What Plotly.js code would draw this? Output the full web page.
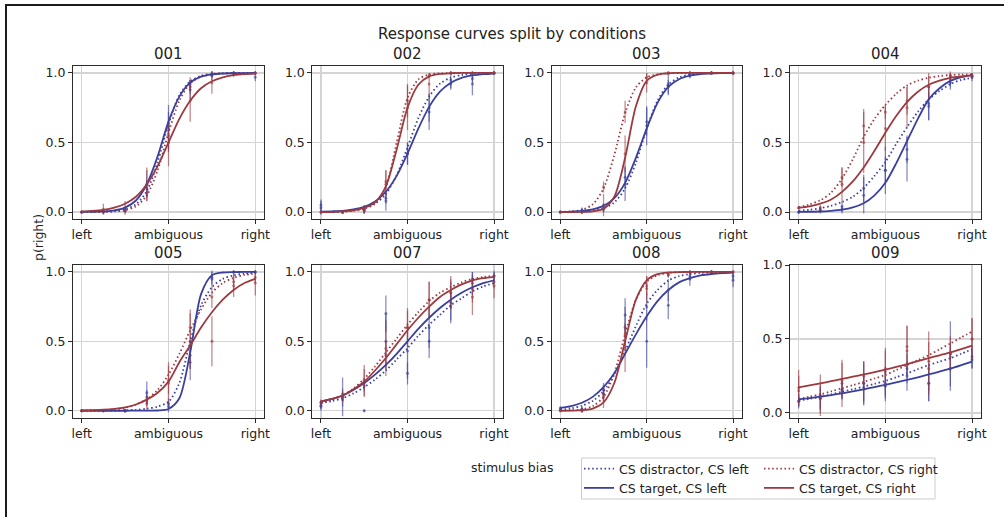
<!DOCTYPE html>
<html><head><meta charset="utf-8">
<script src="https://cdn.plot.ly/plotly-3.0.1.min.js"></script>
<style>html,body{margin:0;padding:0;background:#fff;overflow:hidden}#chart{width:1004px;height:517px}</style>
</head><body><div id="chart"></div>
<script>
// ---------------- data ----------------
const subjects = ['001','002','003','004','005','007','008','009'];
const stimX = [-1,-0.75,-0.5,-0.25,0,0.25,0.5,0.75,1];
const curveX = [-1,-0.875,-0.75,-0.625,-0.5,-0.375,-0.25,-0.125,0,0.125,0.25,0.375,0.5,0.625,0.75,0.875,1];
const xTickVals = [-1,0,1];
const xTickText = ['left','ambiguous','right'];
const yTickVals = [0,0.5,1];
const yTickText = ['0.0','0.5','1.0'];
const conditionNames = ['CS distractor, CS left','CS distractor, CS right','CS target, CS left','CS target, CS right'];

// fitted curves, sampled at curveX
const curveDistLeft = [
 [0,0,0.002,0.006,0.019,0.056,0.15,0.36,0.63,0.84,0.94,0.98,0.993,0.997,0.999,1,1],
 [0.001,0.002,0.005,0.011,0.026,0.059,0.13,0.265,0.465,0.675,0.83,0.923,0.966,0.985,0.994,0.997,0.999],
 [0.001,0.001,0.004,0.01,0.027,0.069,0.17,0.354,0.6,0.8,0.917,0.968,0.988,0.996,0.998,0.999,1],
 [0.01,0.016,0.028,0.045,0.072,0.11,0.174,0.26,0.36,0.49,0.61,0.72,0.81,0.87,0.92,0.95,0.965],
 [0,0,0,0.001,0.003,0.007,0.015,0.03,0.065,0.2,0.5,0.76,0.89,0.95,0.975,0.988,0.994],
 [0.055,0.07,0.09,0.125,0.17,0.225,0.29,0.37,0.45,0.54,0.62,0.69,0.76,0.81,0.86,0.895,0.92],
 [0.008,0.017,0.036,0.071,0.14,0.26,0.43,0.61,0.77,0.87,0.937,0.97,0.985,0.993,0.997,0.998,0.999],
 [0.083,0.095,0.108,0.125,0.144,0.16,0.178,0.197,0.216,0.241,0.268,0.296,0.324,0.347,0.37,0.4,0.43]
];
const curveTargetLeft = [
 [0.001,0.002,0.005,0.012,0.032,0.083,0.2,0.4,0.65,0.83,0.93,0.973,0.99,0.996,0.998,0.999,1],
 [0.002,0.005,0.009,0.019,0.038,0.076,0.146,0.26,0.42,0.6,0.756,0.865,0.93,0.965,0.982,0.991,0.996],
 [0.001,0.003,0.008,0.02,0.044,0.1,0.21,0.39,0.6,0.785,0.9,0.955,0.98,0.992,0.997,0.999,1],
 [0.001,0.002,0.004,0.009,0.017,0.033,0.063,0.12,0.21,0.35,0.51,0.67,0.81,0.89,0.943,0.97,0.985],
 [0,0,0,0,0,0.001,0.001,0.002,0.013,0.09,0.42,0.84,0.976,0.996,0.999,1,1],
 [0.065,0.085,0.11,0.15,0.2,0.26,0.33,0.41,0.5,0.59,0.67,0.74,0.8,0.85,0.89,0.92,0.94],
 [0.02,0.033,0.058,0.1,0.17,0.27,0.41,0.55,0.68,0.79,0.87,0.925,0.955,0.975,0.985,0.991,0.995],
 [0.092,0.1,0.11,0.121,0.133,0.146,0.16,0.175,0.19,0.206,0.223,0.241,0.26,0.28,0.3,0.323,0.347]
];
const curveDistRight = [
 [0,0,0.002,0.004,0.014,0.04,0.12,0.3,0.57,0.8,0.925,0.975,0.99,0.997,0.999,1,1],
 [0,0,0.001,0.01,0.025,0.06,0.18,0.5,0.82,0.953,0.989,0.997,0.999,1,1,1,1],
 [0.001,0.005,0.016,0.055,0.17,0.41,0.71,0.896,0.968,0.99,0.997,0.999,1,1,1,1,1],
 [0.035,0.055,0.085,0.14,0.24,0.38,0.54,0.67,0.77,0.85,0.91,0.945,0.965,0.978,0.985,0.99,0.99],
 [0.001,0.002,0.005,0.01,0.022,0.045,0.083,0.15,0.26,0.41,0.58,0.73,0.85,0.92,0.957,0.978,0.989],
 [0.06,0.08,0.11,0.16,0.23,0.32,0.42,0.52,0.62,0.71,0.79,0.85,0.89,0.925,0.95,0.963,0.972],
 [0.001,0.003,0.01,0.033,0.1,0.27,0.55,0.8,0.93,0.976,0.993,0.998,1,1,1,1,1],
 [0.095,0.11,0.126,0.146,0.167,0.188,0.21,0.233,0.257,0.29,0.324,0.357,0.39,0.43,0.47,0.51,0.55]
];
const curveTargetRight = [
 [0.004,0.008,0.016,0.032,0.06,0.11,0.2,0.33,0.5,0.67,0.8,0.89,0.94,0.968,0.984,0.992,0.996],
 [0,0,0.005,0.012,0.03,0.07,0.185,0.45,0.75,0.915,0.975,0.993,0.998,1,1,1,1],
 [0,0,0.001,0.005,0.024,0.11,0.39,0.76,0.943,0.988,0.998,1,1,1,1,1,1],
 [0.03,0.04,0.06,0.09,0.145,0.22,0.32,0.44,0.57,0.69,0.79,0.865,0.915,0.945,0.965,0.975,0.982],
 [0.003,0.005,0.008,0.014,0.025,0.045,0.08,0.13,0.21,0.35,0.47,0.6,0.71,0.8,0.87,0.92,0.95],
 [0.065,0.085,0.11,0.155,0.21,0.29,0.38,0.48,0.58,0.67,0.75,0.82,0.87,0.91,0.94,0.955,0.965],
 [0,0.001,0.004,0.016,0.06,0.2,0.5,0.8,0.94,0.984,0.996,0.999,1,1,1,1,1],
 [0.173,0.186,0.2,0.215,0.23,0.245,0.26,0.276,0.293,0.311,0.33,0.35,0.37,0.39,0.41,0.432,0.455]
];

// observed means and errors, at stimX
const meanDistLeft = [
 [0,0,0.01,0.17,0.62,0.9,0.99,1,1],
 [0.03,0,0.01,0.1,0.42,0.75,0.92,0.96,1],
 [0,0.01,0.02,0.25,0.65,0.9,0.98,1,1],
 [0,0.01,0.04,0.17,0.3,0.45,0.76,0.93,0.97],
 [0,0,0,0.1,0.05,0.4,0.95,1,1],
 [0.03,0.08,0.18,0.5,0.43,0.6,0.75,0.95,0.97],
 [0.01,0.01,0.12,0.6,0.75,0.87,0.97,1,0.97],
 [0.08,0.1,0.15,0.17,0.2,0.25,0.2,0.4,0.38]
];
const errDistLeft = [
 [0.005,0.005,0.01,0.06,0.1,0.05,0.02,0.01,0.01],
 [0.05,0.01,0.02,0.04,0.08,0.1,0.04,0.03,0.01],
 [0.005,0.02,0.02,0.08,0.1,0.05,0.02,0.01,0.01],
 [0.01,0.02,0.04,0.1,0.1,0.1,0.1,0.05,0.03],
 [0.005,0.005,0.01,0.05,0.04,0.1,0.05,0.01,0.01],
 [0.03,0.05,0.04,0.2,0.2,0.15,0.1,0.05,0.03],
 [0.01,0.02,0.05,0.15,0.1,0.08,0.03,0.01,0.03],
 [0.05,0.07,0.06,0.09,0.1,0.1,0.12,0.22,0.08]
];
const meanTargetLeft = [
 [0,0,0.01,0.2,0.6,0.88,0.98,1,0.97],
 [0.05,0,0.02,0.08,0.42,0.72,0.95,0.92,1],
 [0,0.01,0.03,0.2,0.62,0.92,0.99,1,1],
 [0,0.01,0.02,0.12,0.3,0.38,0.78,0.95,0.98],
 [0,0,0,0.13,0.03,0.35,0.96,1,1],
 [0.04,0.1,0,0.7,0.27,0.5,0.78,0.92,0.97],
 [0.02,0.01,0.15,0.69,0.5,0.76,0.95,1,0.94],
 [0.08,0.1,0.16,0.2,0.18,0.3,0.2,0.3,0.36]
];
const errTargetLeft = [
 [0.005,0.005,0.01,0.1,0.17,0.07,0.03,0.01,0.03],
 [0.04,0.01,0.03,0.07,0.08,0.13,0.06,0.08,0.01],
 [0.005,0.02,0.03,0.12,0.14,0.08,0.02,0.01,0.01],
 [0.01,0.01,0.03,0.13,0.17,0.16,0.12,0.05,0.02],
 [0.005,0.005,0.01,0.08,0.04,0.13,0.05,0.01,0.01],
 [0.03,0.14,0.01,0.13,0.08,0.12,0.15,0.08,0.04],
 [0.01,0.02,0.05,0.12,0.19,0.1,0.05,0.01,0.05],
 [0.04,0.08,0.06,0.15,0.1,0.1,0.12,0.15,0.06]
];
const meanDistRight = [
 [0,0,0.01,0.13,0.55,0.92,0.99,1,1],
 [0,0,0.01,0.22,0.8,0.98,1,1,1],
 [0,0,0.18,0.72,0.97,1,1,1,1],
 [0.03,0.03,0.25,0.62,0.72,0.8,0.9,0.98,0.98],
 [0,0,0,0.07,0.22,0.6,0.82,0.93,0.96],
 [0.06,0.12,0.22,0.45,0.6,0.8,0.85,0.88,0.93],
 [0,0,0.12,0.55,0.9,0.98,1,1,1],
 [0.17,0.12,0.2,0.2,0.28,0.42,0.35,0.4,0.5]
];
const errDistRight = [
 [0.005,0.01,0.02,0.05,0.1,0.05,0.02,0.01,0.01],
 [0.01,0.01,0.02,0.08,0.12,0.02,0.01,0.01,0.01],
 [0.005,0.01,0.04,0.08,0.03,0.01,0.01,0.01,0.01],
 [0.01,0.02,0.07,0.12,0.05,0.1,0.08,0.02,0.02],
 [0.005,0.005,0.01,0.04,0.1,0.13,0.08,0.06,0.04],
 [0.02,0.04,0.11,0.2,0.14,0.13,0.1,0.1,0.05],
 [0.005,0.01,0.06,0.08,0.07,0.02,0.01,0.01,0.01],
 [0.12,0.14,0.16,0.14,0.16,0.17,0.2,0.12,0.14]
];
const meanTargetRight = [
 [0,0.02,0.03,0.2,0.5,0.8,0.93,0.99,1],
 [0,0,0.02,0.2,0.75,0.92,1,1,1],
 [0,0,0.05,0.42,0.93,1,1,1,1],
 [0.03,0.02,0.2,0.5,0.6,0.75,0.9,0.98,0.98],
 [0,0,0,0.05,0.2,0.5,0.5,0.9,0.92],
 [0.06,0.1,0.2,0.4,0.6,0.8,0.85,0.82,0.9],
 [0,0,0.1,0.45,0.88,0.98,1,1,1],
 [0.15,0.1,0.22,0.25,0.3,0.45,0.3,0.38,0.5]
];
const errTargetRight = [
 [0.005,0.04,0.05,0.12,0.17,0.15,0.08,0.02,0.01],
 [0.01,0.01,0.03,0.1,0.16,0.08,0.01,0.01,0.01],
 [0.005,0.01,0.08,0.13,0.07,0.01,0.01,0.01,0.01],
 [0.01,0.02,0.12,0.22,0.16,0.15,0.1,0.03,0.02],
 [0.005,0.005,0.01,0.05,0.15,0.2,0.18,0.08,0.09],
 [0.02,0.04,0.1,0.1,0.12,0.13,0.12,0.13,0.09],
 [0.005,0.01,0.08,0.17,0.09,0.02,0.01,0.01,0.01],
 [0.1,0.1,0.12,0.1,0.12,0.14,0.18,0.1,0.14]
];

// ---------------- style / layout ----------------
const W = 1004, H = 517;
const BLUE = '#3b409c', RED = '#9c3a40';
const BLUE_A = 'rgba(59,64,156,0.6)', RED_A = 'rgba(156,58,64,0.6)';
const FONT = 'DejaVu Sans, Liberation Sans, sans-serif';
const colPx = [[73,264],[312.3,502.7],[551.7,741.7],[790,980.7]];
const rowPx = [[66,219],[265,417.7]];
const yRanges = [[-0.05,1.05],[-0.05,1.05],[-0.05,1.05],[-0.05,1.05],[-0.05,1.05],[-0.05,1.05],[-0.05,1.05],[-0.032,1.0]];
const titleRowY = [54, 253];

const conds = [
  {name: conditionNames[0], curve: curveDistLeft, mean: meanDistLeft, err: errDistLeft, color: BLUE, ca: BLUE_A, dash: '1.5px,2.6px', leg: 'legend', rank: 1},
  {name: conditionNames[1], curve: curveDistRight, mean: meanDistRight, err: errDistRight, color: RED, ca: RED_A, dash: '1.5px,2.6px', leg: 'legend2', rank: 1},
  {name: conditionNames[2], curve: curveTargetLeft, mean: meanTargetLeft, err: errTargetLeft, color: BLUE, ca: BLUE_A, dash: 'solid', leg: 'legend', rank: 2},
  {name: conditionNames[3], curve: curveTargetRight, mean: meanTargetRight, err: errTargetRight, color: RED, ca: RED_A, dash: 'solid', leg: 'legend2', rank: 2}
];

const legendCommon = {
  orientation: 'v', yanchor: 'top', xanchor: 'left', y: 1 - 454 / H,
  bgcolor: 'rgba(0,0,0,0)', borderwidth: 0, traceorder: 'normal',
  font: {family: FONT, size: 12.5, color: '#222'}, itemwidth: 30, tracegroupgap: 0
};

const traces = [];
const layout = {
  width: W, height: H,
  margin: {l: 0, r: 0, t: 0, b: 0, autoexpand: false},
  paper_bgcolor: '#fff', plot_bgcolor: '#fff',
  font: {family: FONT, size: 12.5, color: '#222'},
  showlegend: true,
  legend: Object.assign({}, legendCommon, {x: 579 / W}),
  legend2: Object.assign({}, legendCommon, {x: 759 / W}),
  annotations: [],
  shapes: []
};

subjects.forEach((s, i) => {
  const n = i + 1;
  const col = i % 4, row = Math.floor(i / 4);
  const xa = n === 1 ? 'x' : 'x' + n;
  const ya = n === 1 ? 'y' : 'y' + n;
  const common = {
    showgrid: true, gridcolor: '#d4d4d4', gridwidth: 1.2, zeroline: false,
    showline: true, linecolor: '#2b2b2b', linewidth: 1, mirror: true,
    ticks: 'outside', ticklen: 4, tickwidth: 1, tickcolor: '#2b2b2b',
    tickfont: {family: FONT, size: 12.5, color: '#222'}, fixedrange: true
  };
  layout[n === 1 ? 'xaxis' : 'xaxis' + n] = Object.assign({}, common, {
    domain: [colPx[col][0] / W, colPx[col][1] / W], range: [-1.1, 1.1],
    tickmode: 'array', tickvals: xTickVals, ticktext: xTickText, anchor: ya
  });
  layout[n === 1 ? 'yaxis' : 'yaxis' + n] = Object.assign({}, common, {
    domain: [1 - rowPx[row][1] / H, 1 - rowPx[row][0] / H], range: yRanges[i],
    tickmode: 'array', tickvals: yTickVals, ticktext: yTickText, anchor: xa
  });
  layout.annotations.push({
    text: s, xref: 'paper', yref: 'paper',
    x: (colPx[col][0] + colPx[col][1]) / 2 / W, y: 1 - titleRowY[row] / H,
    xanchor: 'center', yanchor: 'middle', showarrow: false,
    font: {family: FONT, size: 15, color: '#222'}
  });
  // observed points with error bars
  conds.forEach(c => {
    traces.push({
      type: 'scatter', mode: 'markers', x: stimX, y: c.mean[i], xaxis: xa, yaxis: ya,
      showlegend: false, hoverinfo: 'skip',
      marker: {color: c.ca, size: 3},
      error_y: {type: 'data', array: c.err[i], visible: true, color: c.ca, thickness: 1.3, width: 0}
    });
  });
  // fitted curves
  conds.forEach(c => {
    traces.push({
      type: 'scatter', mode: 'lines', x: curveX, y: c.curve[i], xaxis: xa, yaxis: ya,
      name: c.name, legend: c.leg, legendrank: c.rank, showlegend: i === 0,
      line: {color: c.color, width: 1.8, dash: c.dash, shape: 'spline', smoothing: 0.8}
    });
  });
});

layout.annotations.push({
  text: 'Response curves split by conditions', xref: 'paper', yref: 'paper',
  x: 512 / W, y: 1 - 34 / H, xanchor: 'center', yanchor: 'middle', showarrow: false,
  font: {family: FONT, size: 15, color: '#222'}
});
layout.annotations.push({
  text: 'p(right)', xref: 'paper', yref: 'paper', textangle: -90,
  x: 38 / W, y: 1 - 238 / H, xanchor: 'center', yanchor: 'middle', showarrow: false,
  font: {family: FONT, size: 12.5, color: '#222'}
});
layout.annotations.push({
  text: 'stimulus bias', xref: 'paper', yref: 'paper',
  x: 512 / W, y: 1 - 467 / H, xanchor: 'center', yanchor: 'middle', showarrow: false,
  font: {family: FONT, size: 12.5, color: '#222'}
});
// legend frame (rounded box around both legend columns)
(function () {
  const x0 = 581.5, x1 = 935, y0 = 458, y1 = 499, r = 3;
  const px = v => (v / W).toFixed(5), py = v => (1 - v / H).toFixed(5);
  layout.shapes.push({
    type: 'rect', xref: 'paper', yref: 'paper', layer: 'below',
    x0: x0 / W, x1: x1 / W, y0: 1 - y0 / H, y1: 1 - y1 / H,
    line: {color: '#cccccc', width: 1}, fillcolor: '#ffffff'
  });
})();
// figure frame (top and left edges)
layout.shapes.push({type: 'line', xref: 'paper', yref: 'paper', x0: 5 / W, x1: 1.01, y0: 1 - 5 / H, y1: 1 - 5 / H, line: {color: '#1c1c1c', width: 2}});
layout.shapes.push({type: 'line', xref: 'paper', yref: 'paper', x0: 6 / W, x1: 6 / W, y0: 1 - 4 / H, y1: -0.01, line: {color: '#1c1c1c', width: 2}});

Plotly.newPlot('chart', traces, layout, {displayModeBar: false, staticPlot: true});
</script>
</body></html>
